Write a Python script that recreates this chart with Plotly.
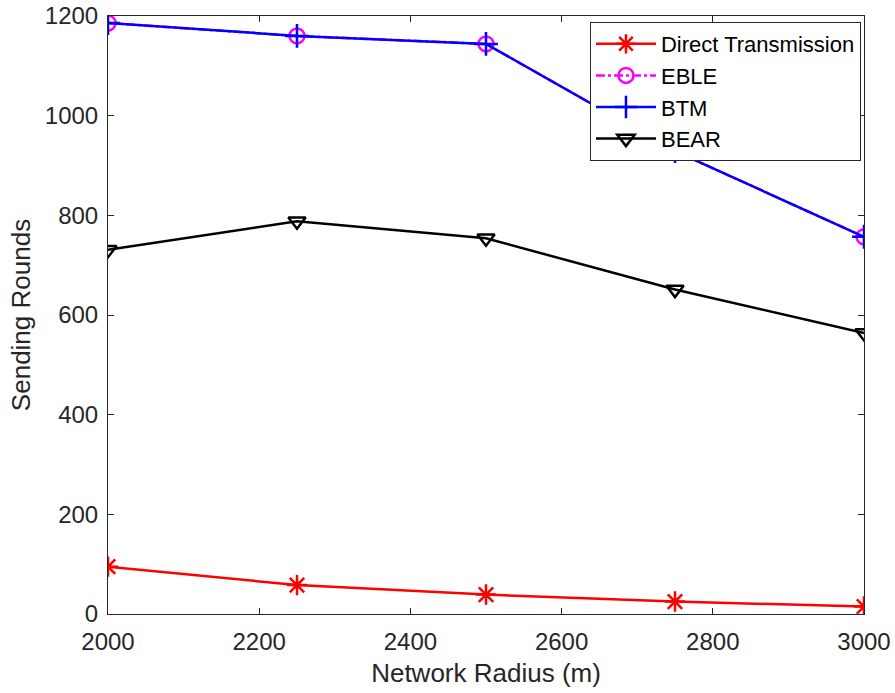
import plotly.graph_objects as go

radius = [2000, 2250, 2500, 2750, 3000]
direct = [95, 58, 39, 25, 15]
eble = [1186, 1160, 1144, 929, 757]
btm = [1186, 1160, 1144, 929, 757]
bear = [731, 788, 754, 651, 564]

x_ticks = [2000, 2200, 2400, 2600, 2800, 3000]
y_ticks = [0, 200, 400, 600, 800, 1000, 1200]

FONT = "Liberation Sans, Arial, Helvetica, sans-serif"
AX = "#262626"

fig = go.Figure()
fig.add_trace(go.Scatter(x=radius, y=direct, name="Direct Transmission", mode="lines+markers",
                         line=dict(color="red", width=2.5),
                         marker=dict(symbol="asterisk-open", size=17, color="red", line=dict(color="red", width=2.5))))
fig.add_trace(go.Scatter(x=radius, y=eble, name="EBLE", mode="lines+markers",
                         line=dict(color="magenta", width=2.5, dash="dashdot"),
                         marker=dict(symbol="circle-open", size=15, color="magenta", line=dict(color="magenta", width=2.5))))
fig.add_trace(go.Scatter(x=radius, y=btm, name="BTM", mode="lines+markers",
                         line=dict(color="blue", width=2.5),
                         marker=dict(symbol="cross-thin-open", size=17, color="blue", line=dict(color="blue", width=2.5))))
fig.add_trace(go.Scatter(x=radius, y=bear, name="BEAR", mode="lines+markers",
                         line=dict(color="black", width=2.5),
                         marker=dict(symbol="triangle-down-open", size=15, color="black", line=dict(color="black", width=2.5))))

axis_common = dict(showline=True, linecolor=AX, linewidth=1, mirror="ticks", ticks="inside",
                   ticklen=6, tickcolor=AX, showgrid=False, zeroline=False, automargin=False,
                   tickfont=dict(family=FONT, size=24, color=AX))
fig.update_xaxes(range=[2000, 3000], tickvals=x_ticks, ticklabelstandoff=6,
                 title=dict(text="Network Radius (m)", font=dict(family=FONT, size=26, color=AX), standoff=10),
                 **axis_common)
fig.update_yaxes(range=[0, 1200], tickvals=y_ticks, ticklabelstandoff=4,
                 title=dict(text="Sending Rounds", font=dict(family=FONT, size=26, color=AX), standoff=6),
                 **axis_common)

fig.update_layout(
    width=895, height=693,
    margin=dict(l=108, r=31, t=16, b=79),
    paper_bgcolor="white", plot_bgcolor="white",
    font=dict(family=FONT, size=22, color="black"),
    legend=dict(x=0.996, y=0.99, xanchor="right", yanchor="top",
                bgcolor="white", bordercolor=AX, borderwidth=1,
                font=dict(family=FONT, size=22, color="black"),
                itemwidth=60, tracegroupgap=0),
    showlegend=True,
)

fig.write_html("out.html", config={"displayModeBar": False})
with open("out.html", "r", encoding="utf-8") as f:
    html = f.read()
html = html.replace("<head>", "<head><style>html,body{margin:0;padding:0;overflow:hidden;}</style>", 1)
with open("out.html", "w", encoding="utf-8") as f:
    f.write(html)
